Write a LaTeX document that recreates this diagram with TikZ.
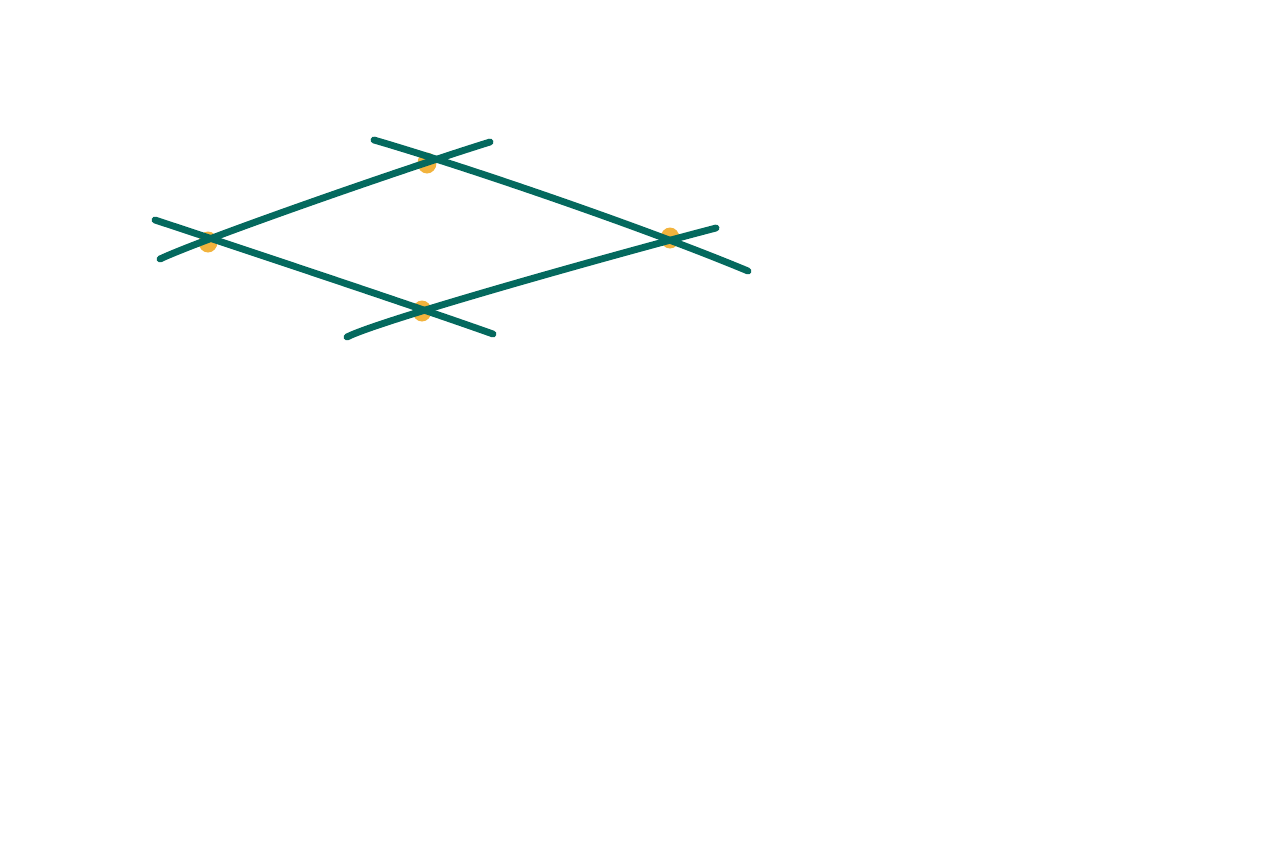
\documentclass[tikz,border=0pt]{standalone}
\usetikzlibrary{calc}
\definecolor{pine}{HTML}{04695E}
\definecolor{amber}{HTML}{F2B33D}
\begin{document}
\begin{tikzpicture}[line join=round, line cap=round]
\useasboundingbox (0,0) rectangle (12.8,8.53);
\coordinate (L) at (2.08,6.11);
\coordinate (T) at (4.27,6.90);
\coordinate (R) at (6.70,6.15);
\coordinate (B) at (4.22,5.42);
\coordinate (a1) at (1.60,5.94);
\coordinate (a2) at (4.90,7.11);
\coordinate (b1) at (3.74,7.13);
\coordinate (b2) at (7.48,5.82);
\coordinate (c1) at (1.55,6.33);
\coordinate (c2) at (4.93,5.19);
\coordinate (d1) at (3.47,5.16);
\coordinate (d2) at (7.16,6.25);
\foreach \i in {L,T,R,B}{\fill[amber](\i) ellipse (0.095 and 0.105);}
\draw[pine,line width=1.95pt](a1) .. controls (2.00,6.13) and (4.00,6.83) .. (a2);
\draw[pine,line width=1.95pt](b1) .. controls (4.60,6.88) and (6.40,6.27) .. (b2);
\draw[pine,line width=1.95pt](c1) .. controls (2.40,6.05) and (4.20,5.45) .. (c2);
\draw[pine,line width=1.95pt](d1) .. controls (3.80,5.33) and (6.20,6.00) .. (d2);
\end{tikzpicture}
\end{document}
